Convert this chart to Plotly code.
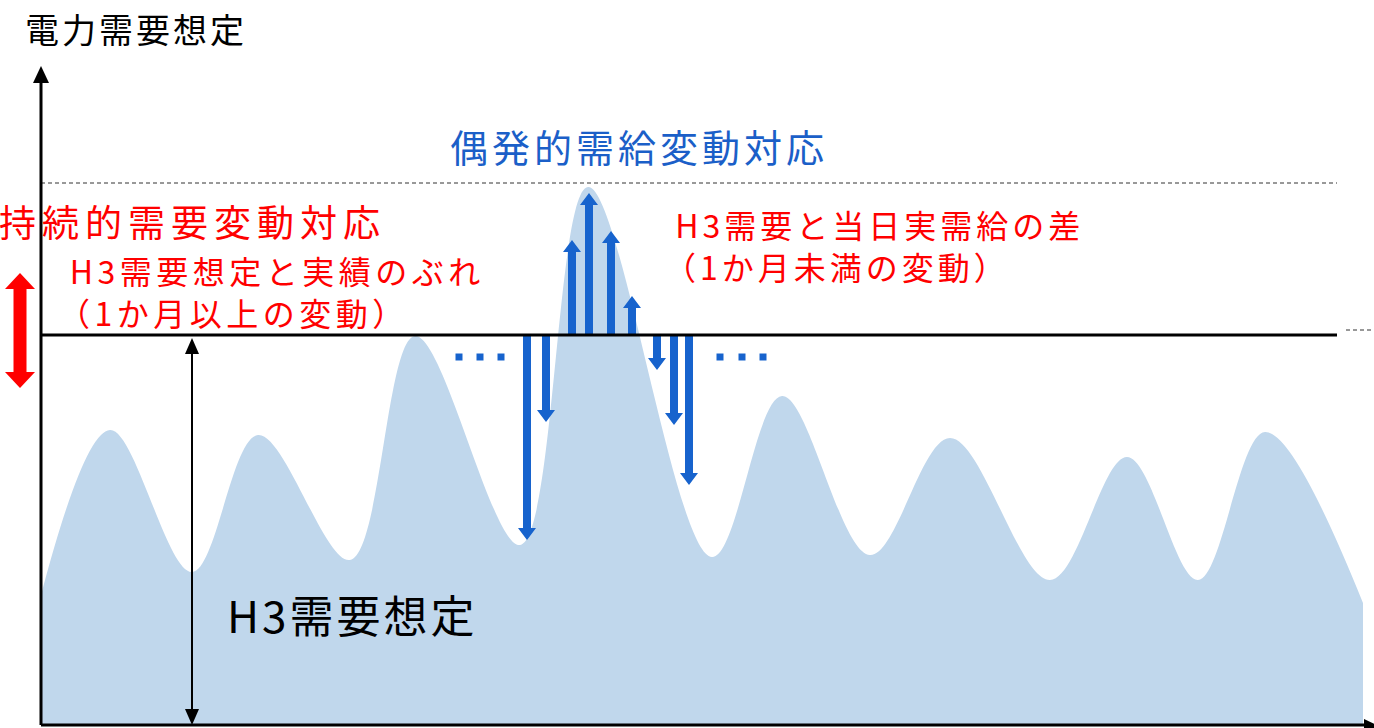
import plotly.graph_objects as go

# Demand curve (time along x, demand along y; origin at the axes corner)
curve_x = [0, 69, 151, 217, 309, 374, 479, 547, 671, 741, 829, 909, 1009, 1086, 1157, 1224, 1322]
curve_y = [130, 295, 153, 290, 165, 389, 180, 538, 168, 329, 170, 287, 145, 268, 145, 293, 122]

# H3 demand forecast level and upper reference level
h3_level = 390
upper_level = 542
x_end = 1296

# Short-term fluctuation arrows (position, tip level)
up_x = [531, 548, 570, 591]
up_tip = [485, 532, 494, 429]
down_x = [486, 505, 616, 633, 648]
down_tip = [185, 303, 355, 300, 240]

# Ellipsis dots on each side
dots_x = [418, 439, 460, 679, 701, 722]
dots_y = [368, 368, 368, 368, 368, 368]

BLUE_FILL = "rgb(192,215,236)"
BLUE = "rgb(23,99,205)"
BLUE_TEXT = "rgb(27,95,200)"
RED = "rgb(255,0,0)"
FONT = "Noto Sans CJK JP"
NBSP = "\u00a0"


def arrow_poly(x, y0, y1, sw, hw, hl, both=False):
    """Polygon for a vertical arrow from y0 to tip y1 (optionally headed at both ends)."""
    d = 1 if y1 > y0 else -1
    if both:
        px = [x - sw, x - sw, x - hw, x, x + hw, x + sw, x + sw, x + hw, x, x - hw, x - sw]
        py = [y0 + d * hl, y1 - d * hl, y1 - d * hl, y1, y1 - d * hl, y1 - d * hl,
              y0 + d * hl, y0 + d * hl, y0, y0 + d * hl, y0 + d * hl]
    else:
        px = [x - sw, x - sw, x - hw, x, x + hw, x + sw, x + sw]
        py = [y0, y1 - d * hl, y1 - d * hl, y1, y1 - d * hl, y1 - d * hl, y0]
    return px + [px[0]], py + [py[0]]


fig = go.Figure()

# Demand area
fig.add_trace(go.Scatter(
    x=curve_x, y=curve_y, mode="lines", line=dict(shape="spline", smoothing=1.0, width=0, color=BLUE_FILL),
    fill="tozeroy", fillcolor=BLUE_FILL, hoverinfo="skip"))

# Blue fluctuation arrows
for xs, tips in ((up_x, up_tip), (down_x, down_tip)):
    for x, t in zip(xs, tips):
        px, py = arrow_poly(x, h3_level, t, 4, 9, 12)
        fig.add_trace(go.Scatter(x=px, y=py, mode="lines", fill="toself", fillcolor=BLUE,
                                 line=dict(width=0, color=BLUE), hoverinfo="skip"))

# Dots
fig.add_trace(go.Scatter(x=dots_x, y=dots_y, mode="markers",
                         marker=dict(symbol="square", size=7, color=BLUE), hoverinfo="skip"))

# H3 level line, upper dashed line and its continuation
fig.add_trace(go.Scatter(x=[0, x_end], y=[h3_level, h3_level], mode="lines",
                         line=dict(color="black", width=3), hoverinfo="skip"))
fig.add_trace(go.Scatter(x=[0, x_end], y=[upper_level, upper_level], mode="lines",
                         line=dict(color="#333", width=1, dash="4px,3px"), hoverinfo="skip"))
fig.add_trace(go.Scatter(x=[x_end + 9, 1340], y=[h3_level + 5, h3_level + 5], mode="lines",
                         line=dict(color="#333", width=1, dash="4px,3px"), hoverinfo="skip"))

# Axes with arrowheads
fig.add_trace(go.Scatter(x=[0, 0], y=[0, 645], mode="lines",
                         line=dict(color="black", width=3), hoverinfo="skip"))
fig.add_trace(go.Scatter(x=[-8, 0, 8, -8], y=[642, 659, 642, 642], mode="lines", fill="toself",
                         fillcolor="black", line=dict(width=0, color="black"), hoverinfo="skip"))
fig.add_trace(go.Scatter(x=[0, 1325], y=[0, 0], mode="lines",
                         line=dict(color="black", width=3), hoverinfo="skip"))
fig.add_trace(go.Scatter(x=[1323, 1340, 1323, 1323], y=[6, -2, -10, 6], mode="lines", fill="toself",
                         fillcolor="black", line=dict(width=0, color="black"), hoverinfo="skip"))

# H3 forecast double arrow (black)
fig.add_trace(go.Scatter(x=[151, 151], y=[14, h3_level - 16], mode="lines",
                         line=dict(color="black", width=2), hoverinfo="skip"))
for tip, d in ((h3_level - 3, 1), (0, -1)):
    fig.add_trace(go.Scatter(x=[144, 151, 158, 144], y=[tip - d * 16, tip, tip - d * 16, tip - d * 16],
                             mode="lines", fill="toself", fillcolor="black",
                             line=dict(width=0, color="black"), hoverinfo="skip"))

# Long-term fluctuation double arrow (red)
px, py = arrow_poly(-21, 337, 452, 6.5, 15, 16, both=True)
fig.add_trace(go.Scatter(x=px, y=py, mode="lines", fill="toself", fillcolor=RED,
                         line=dict(width=0, color=RED), hoverinfo="skip"))


def label(text, x, y, size, color, anchor="left", spacing=0, xshift=0):
    if spacing:
        text = "<br>".join(f'<span style="letter-spacing:{spacing}px">{t}</span>'
                           for t in text.split("\n"))
    fig.add_annotation(x=x, y=y, xref="x", yref="y", text=text, showarrow=False,
                       xanchor=anchor, yanchor="middle", align="left", xshift=xshift,
                       font=dict(family=FONT, size=size, color=color))


label("電力需要想定", -18, 697, 34, "black", spacing=3)
label("偶発的需給変動対応", 598, 580, 38, BLUE_TEXT, anchor="center", spacing=4)
label("持続的需要変動対応", -40, 504, 37, RED, spacing=6, xshift=-4)
label(NBSP + "H3需要想定と実績のぶれ\n（1か月以上の変動）", 15, 434, 32, RED, spacing=4.5)
label(NBSP + "H3需要と当日実需給の差\n（1か月未満の変動）", 621, 480, 32, RED, spacing=4)
label("H3需要想定", 184, 111, 44, "black", spacing=3)

fig.update_layout(
    width=1374, height=728, margin=dict(l=0, r=0, t=0, b=0),
    paper_bgcolor="white", plot_bgcolor="white", showlegend=False,
    xaxis=dict(range=[-41, 1333], visible=False, fixedrange=True),
    yaxis=dict(range=[-3, 725], visible=False, fixedrange=True),
)

fig.write_html("out.html", config={"displayModeBar": False})
